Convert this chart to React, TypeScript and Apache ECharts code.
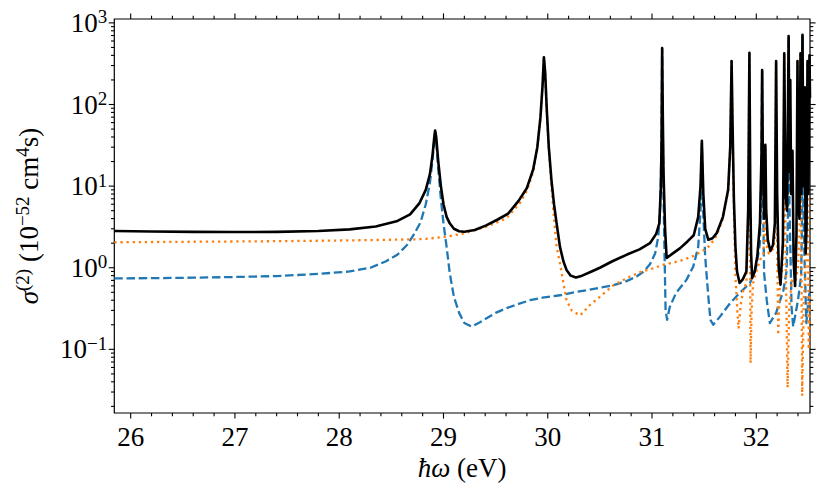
import React, { useEffect, useRef } from 'react';
import * as echarts from 'echarts';

// Total (black, solid)
const blackX = [25.843, 26.2, 26.6, 27.0, 27.4, 27.8, 28.1, 28.35, 28.55, 28.68, 28.77, 28.83, 28.87, 28.895, 28.912, 28.92, 28.93, 28.95, 28.975, 29.0, 29.03, 29.06, 29.1, 29.15, 29.2, 29.3, 29.41, 29.52, 29.62, 29.72, 29.8, 29.86, 29.9, 29.93, 29.95, 29.963, 29.975, 29.99, 30.01, 30.035, 30.06, 30.085, 30.117, 30.15, 30.18, 30.22, 30.27, 30.33, 30.42, 30.5, 30.62, 30.76, 30.88, 30.98, 31.04, 31.07, 31.085, 31.092, 31.097, 31.103, 31.11, 31.125, 31.14, 31.2, 31.27, 31.34, 31.4, 31.443, 31.465, 31.478, 31.492, 31.51, 31.54, 31.58, 31.62, 31.68, 31.73, 31.75, 31.763, 31.772, 31.785, 31.8, 31.815, 31.84, 31.87, 31.905, 31.922, 31.934, 31.942, 31.95, 31.96, 31.985, 32.01, 32.035, 32.05, 32.056, 32.063, 32.075, 32.087, 32.095, 32.11, 32.135, 32.16, 32.178, 32.19, 32.2, 32.215, 32.232, 32.255, 32.268, 32.28, 32.295, 32.31, 32.318, 32.326, 32.334, 32.347, 32.358, 32.372, 32.385, 32.395, 32.405, 32.414, 32.424, 32.432, 32.443, 32.452, 32.465, 32.473, 32.482, 32.491, 32.5, 32.51, 32.515];
const blackY = [2.82, 2.78, 2.75, 2.74, 2.75, 2.82, 2.95, 3.2, 3.7, 4.5, 6.2, 9, 14, 24, 40, 48, 40, 20, 10, 6.0, 4.2, 3.5, 3.0, 2.8, 2.76, 2.9, 3.3, 3.9, 4.6, 6.6, 9.5, 16, 30, 70, 170, 380, 250, 90, 30, 12, 6, 3.5, 1.8, 1.2, 0.94, 0.8, 0.76, 0.8, 0.9, 1.0, 1.2, 1.45, 1.68, 2.0, 2.6, 3.5, 10, 40, 490, 80, 15, 3, 1.32, 1.5, 1.74, 2.1, 2.5, 4.2, 10, 36, 8, 3, 2.2, 2.3, 2.65, 4.2, 9, 30, 340, 60, 7, 1.8, 0.9, 0.65, 0.72, 0.9, 5, 430, 10, 1.5, 0.75, 0.9, 1.4, 3.5, 25, 265, 20, 4, 32, 5, 2.2, 1.6, 1.9, 3.5, 340, 8, 1.0, 0.62, 2, 425, 8, 5, 690, 15, 200, 8, 27, 1.2, 0.6, 2.5, 340, 6, 4, 425, 8, 715, 10, 163, 1.5, 3, 340, 8, 400, 120];

// Blue, dashed
const blueX = [25.843, 26.2, 26.6, 27.0, 27.4, 27.8, 28.1, 28.3, 28.45, 28.56, 28.65, 28.72, 28.78, 28.83, 28.87, 28.895, 28.912, 28.92, 28.93, 28.95, 28.975, 29.0, 29.03, 29.06, 29.1, 29.15, 29.2, 29.27, 29.35, 29.413, 29.5, 29.605, 29.72, 29.83, 29.95, 30.117, 30.25, 30.372, 30.5, 30.627, 30.75, 30.852, 30.92, 30.98, 31.03, 31.06, 31.08, 31.09, 31.097, 31.103, 31.11, 31.12, 31.13, 31.145, 31.17, 31.23, 31.33, 31.395, 31.443, 31.465, 31.478, 31.49, 31.51, 31.54, 31.56, 31.587, 31.65, 31.75, 31.84, 31.94, 32.0, 32.035, 32.05, 32.056, 32.063, 32.075, 32.1, 32.13, 32.19, 32.26, 32.29, 32.305, 32.31, 32.318, 32.338, 32.354, 32.4, 32.43, 32.44, 32.443, 32.45, 32.465, 32.48, 32.5, 32.515];
const blueY = [0.74, 0.745, 0.755, 0.77, 0.79, 0.84, 0.9, 1.0, 1.2, 1.45, 1.9, 2.6, 3.6, 6, 11, 21, 37, 45, 36, 16, 7, 3.5, 1.8, 0.86, 0.44, 0.28, 0.21, 0.19, 0.215, 0.24, 0.28, 0.32, 0.36, 0.4, 0.43, 0.46, 0.5, 0.53, 0.57, 0.61, 0.68, 0.78, 0.9, 1.1, 1.5, 2.4, 6, 30, 480, 50, 8, 1.5, 0.3, 0.23, 0.33, 0.49, 0.71, 1.03, 1.8, 5, 33, 5, 1.36, 0.44, 0.23, 0.2, 0.25, 0.37, 0.49, 0.65, 1.03, 2.0, 20, 255, 10, 0.86, 0.4, 0.21, 0.28, 0.53, 0.9, 5, 680, 6, 0.33, 0.19, 0.4, 0.8, 5, 700, 6, 1, 0.21, 0.4, 0.55];

// Orange, dotted
const orangeX = [25.843, 26.3, 26.8, 27.3, 27.8, 28.3, 28.8, 29.03, 29.2, 29.41, 29.6, 29.73, 29.8, 29.86, 29.9, 29.93, 29.95, 29.963, 29.975, 29.99, 30.01, 30.035, 30.06, 30.085, 30.117, 30.15, 30.18, 30.23, 30.31, 30.405, 30.5, 30.63, 30.79, 30.9, 31.01, 31.1, 31.2, 31.3, 31.4, 31.5, 31.56, 31.62, 31.68, 31.73, 31.75, 31.763, 31.772, 31.785, 31.8, 31.818, 31.83, 31.85, 31.875, 31.905, 31.922, 31.934, 31.94, 31.945, 31.955, 31.97, 32.0, 32.035, 32.07, 32.087, 32.095, 32.12, 32.16, 32.178, 32.19, 32.2, 32.21, 32.225, 32.25, 32.26, 32.268, 32.28, 32.3, 32.315, 32.34, 32.37, 32.4, 32.415, 32.424, 32.432, 32.44, 32.455, 32.475, 32.485, 32.491, 32.497, 32.503, 32.515];
const orangeY = [2.05, 2.07, 2.09, 2.11, 2.14, 2.18, 2.24, 2.4, 2.64, 3.18, 4.0, 6.1, 8.8, 15, 29, 68, 165, 370, 240, 85, 28, 10, 4, 1.8, 1.14, 0.65, 0.4, 0.3, 0.26, 0.35, 0.44, 0.61, 0.78, 0.9, 0.98, 1.08, 1.15, 1.25, 1.4, 1.65, 1.9, 2.5, 4.0, 8.8, 29, 335, 55, 5, 0.8, 0.3, 0.18, 0.35, 0.53, 0.65, 4, 420, 2, 0.068, 0.3, 0.65, 0.9, 1.24, 1.5, 28, 2.0, 1.5, 1.7, 2.2, 330, 2, 0.15, 0.58, 1.0, 3, 415, 2, 0.034, 0.3, 0.7, 0.6, 1.0, 3, 410, 2, 0.027, 0.4, 1.1, 3, 330, 2, 0.1, 0.45];

// Axis ranges and ticks
const X_MIN = 25.843;
const X_MAX = 32.515;
const Y_MIN = 0.0166;
const Y_MAX = 1116;
const xMajorTicks = [26, 27, 28, 29, 30, 31, 32];
const xMinorTicks = [26.2, 26.4, 26.6, 26.8, 27.2, 27.4, 27.6, 27.8, 28.2, 28.4, 28.6, 28.8, 29.2, 29.4, 29.6, 29.8, 30.2, 30.4, 30.6, 30.8, 31.2, 31.4, 31.6, 31.8, 32.2, 32.4];
const yMajorTicks = [0.1, 1, 10, 100, 1000];
const yMinorTicks = [0.02, 0.03, 0.04, 0.05, 0.06, 0.07, 0.08, 0.09, 0.2, 0.3, 0.4, 0.5, 0.6, 0.7, 0.8, 0.9, 2, 3, 4, 5, 6, 7, 8, 9, 20, 30, 40, 50, 60, 70, 80, 90, 200, 300, 400, 500, 600, 700, 800, 900];

const FONT = '"Liberation Serif", "DejaVu Serif", serif';

const pairs = (xs: number[], ys: number[]) => xs.map((x, i) => [x, ys[i]]);

export default function App() {
  const ref = useRef<HTMLDivElement>(null);
  useEffect(() => {
    if (!ref.current) return;
    const chart = echarts.init(ref.current, undefined, { renderer: 'svg' });
    const supStyle = { fontSize: 19, fontFamily: FONT, color: '#000', padding: [0, 0, 12, 0] };
    chart.setOption({
      animation: false,
      backgroundColor: '#fff',
      grid: { left: 114.3, top: 19, width: 695.7, height: 394, show: true, borderColor: '#000', borderWidth: 1.2, backgroundColor: 'transparent' },
      xAxis: {
        type: 'value',
        min: X_MIN,
        max: X_MAX,
        axisLine: { show: false },
        axisTick: { show: false },
        splitLine: { show: false },
        axisLabel: {
          margin: 10,
          color: '#000',
          fontFamily: FONT,
          fontSize: 27,
          formatter: (v: number) => (Math.abs(v - Math.round(v)) < 1e-9 ? String(Math.round(v)) : ''),
        },
        name: '{i|ħω} (eV)',
        nameLocation: 'middle',
        nameGap: 36,
        nameTextStyle: {
          color: '#000',
          fontFamily: FONT,
          fontSize: 27,
          verticalAlign: 'top',
          rich: { i: { fontStyle: 'italic', fontSize: 27, fontFamily: FONT, color: '#000' } },
        },
      },
      yAxis: {
        type: 'log',
        logBase: 10,
        min: Y_MIN,
        max: Y_MAX,
        axisLine: { show: false },
        axisTick: { show: false },
        splitLine: { show: false },
        axisLabel: {
          margin: 7,
          color: '#000',
          fontFamily: FONT,
          fontSize: 27,
          formatter: (v: number) => {
            const e = Math.log10(v);
            const r = Math.round(e);
            if (Math.abs(e - r) > 1e-6) return '';
            return '10{s|' + (r < 0 ? '−' + -r : String(r)) + '}';
          },
          rich: { s: supStyle },
        },
        name: '{i|σ}{s|(2)} (10{s|−52} cm{s|4}s)',
        nameLocation: 'middle',
        nameRotate: 90,
        nameGap: 70,
        nameTextStyle: {
          color: '#000',
          fontFamily: FONT,
          fontSize: 27,
          rich: {
            i: { fontStyle: 'italic', fontSize: 27, fontFamily: FONT, color: '#000' },
            s: supStyle,
          },
        },
      },
      series: [
        {
          type: 'line',
          data: pairs(blueX, blueY),
          showSymbol: false,
          lineStyle: { color: '#1f77b4', width: 2.3, type: [8.5, 3.7], cap: 'butt', join: 'round' },
        },
        {
          type: 'line',
          data: pairs(orangeX, orangeY),
          showSymbol: false,
          lineStyle: { color: '#ff7f0e', width: 2.3, type: [2.3, 3.8], cap: 'butt', join: 'round' },
        },
        {
          type: 'line',
          data: pairs(blackX, blackY),
          showSymbol: false,
          lineStyle: { color: '#000', width: 2.6, join: 'round' },
        },
      ],
    });

    const px = (x: number, y: number) => chart.convertToPixel({ gridIndex: 0 }, [x, y]) as number[];
    const left = px(X_MIN, 1)[0];
    const right = px(X_MAX, 1)[0];
    const top = px(X_MIN, Y_MAX)[1];
    const bottom = px(X_MIN, Y_MIN)[1];
    const els: any[] = [];
    const tick = (x1: number, y1: number, x2: number, y2: number) =>
      els.push({ type: 'line', silent: true, shape: { x1, y1, x2, y2 }, style: { stroke: '#000', lineWidth: 1.1 } });
    const MAJ = 5.6;
    const MIN = 3.3;
    xMajorTicks.forEach((v) => { const x = px(v, 1)[0]; tick(x, bottom, x, bottom + MAJ); tick(x, top, x, top - MAJ); });
    xMinorTicks.forEach((v) => { const x = px(v, 1)[0]; tick(x, bottom, x, bottom + MIN); tick(x, top, x, top - MIN); });
    yMajorTicks.forEach((v) => { const y = px(X_MIN, v)[1]; tick(left, y, left - MAJ, y); tick(right, y, right + MAJ, y); });
    yMinorTicks.forEach((v) => { const y = px(X_MIN, v)[1]; tick(left, y, left - MIN, y); tick(right, y, right + MIN, y); });
    chart.setOption({ graphic: { elements: els } });

    return () => chart.dispose();
  }, []);
  return <div ref={ref} style={{ position: 'fixed', left: 0, top: 0, width: 830, height: 501 }} />;
}
